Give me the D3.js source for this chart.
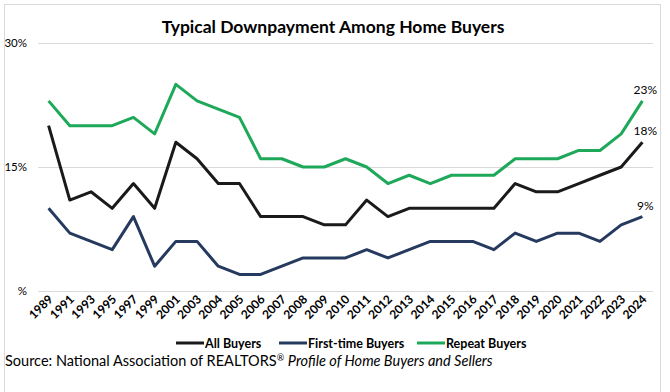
<!DOCTYPE html>
<html>
<head>
<meta charset="utf-8">
<script src="https://cdn.jsdelivr.net/npm/d3@7"></script>
<style>
  body { margin: 0; background: #fff; }
  svg { font-family: Lato, 'Open Sans', sans-serif; }
</style>
</head>
<body>
<div class="chart"></div>
<script>
// Data

const years = ['1989', '1991', '1993', '1995', '1997', '1999', '2001', '2003', '2004', '2005',
  '2006', '2007', '2008', '2009', '2010', '2011', '2012', '2013', '2014', '2015', '2016',
  '2017', '2018', '2019', '2020', '2021', '2022', '2023', '2024']
const allBuyers = [20, 11, 12, 10, 13, 10, 18, 16, 13, 13, 9, 9, 9, 8, 8, 11, 9, 10, 10, 10, 10,
  10, 13, 12, 12, 13, 14, 15, 18]
const firstTime = [10, 7, 6, 5, 9, 3, 6, 6, 3, 2, 2, 3, 4, 4, 4, 5, 4, 5, 6, 6, 6,
  5, 7, 6, 7, 7, 6, 8, 9]
const repeatBuyers = [23, 20, 20, 20, 21, 19, 25, 23, 22, 21, 16, 16, 15, 15, 16, 15, 13, 14, 13, 14, 14,
  14, 16, 16, 16, 17, 17, 19, 23]
const yTicks = [0, 15, 30]
const yTickLabels = ['%', '15%', '30%']

const series = [
  {name: 'All Buyers', values: allBuyers, color: '#1a1a1a'},
  {name: 'First-time Buyers', values: firstTime, color: '#253a5e'},
  {name: 'Repeat Buyers', values: repeatBuyers, color: '#1ea85a'}
]

// Chart

const width = 670
const height = 392

const svg = d3.select('.chart')
  .append('svg')
    .attr('width', width)
    .attr('height', height)

// frame
svg.append('rect')
    .attr('x', 4.5)
    .attr('y', 4.5)
    .attr('width', 656)
    .attr('height', 400)
    .attr('fill', 'none')
    .attr('stroke', '#d9d9d9')

const x = d3.scaleBand()
  .domain(years)
  .range([38, 653])
  .padding(0)
const y = d3.scaleLinear()
  .domain([0, 30])
  .range([291, 43])

const cx = (d) => x(d) + x.bandwidth() / 2

svg.append('text')
    .attr('x', 333)
    .attr('y', 33)
    .attr('text-anchor', 'middle')
    .style('font-size', '17.5px')
    .style('font-weight', 'bold')
    .text('Typical Downpayment Among Home Buyers')

// grid lines + y labels
const yAxis = svg.append('g')
yAxis.selectAll('line')
    .data(yTicks)
  .enter().append('line')
    .attr('x1', 38)
    .attr('x2', 653)
    .attr('y1', (d) => y(d) + 0.5)
    .attr('y2', (d) => y(d) + 0.5)
    .attr('stroke', '#d9d9d9')
yAxis.selectAll('text')
    .data(yTicks)
  .enter().append('text')
    .attr('x', 27)
    .attr('y', (d) => y(d) + 4)
    .attr('text-anchor', 'end')
    .style('font-size', '11.5px')
    .text((d, i) => yTickLabels[i])

// x labels
svg.append('g')
    .selectAll('text')
    .data(years)
  .enter().append('text')
    .attr('transform', (d) => `translate(${cx(d) + 5},${y(0) + 9}) rotate(-45)`)
    .attr('text-anchor', 'end')
    .style('font-size', '12px')
    .style('font-weight', 'bold')
    .text((d) => d)

// lines
const line = d3.line()
  .x((d, i) => cx(years[i]))
  .y((d) => y(d))

svg.append('g')
    .selectAll('path')
    .data(series)
  .enter().append('path')
    .attr('d', (d) => line(d.values))
    .attr('fill', 'none')
    .attr('stroke', (d) => d.color)
    .attr('stroke-width', 3)
    .attr('stroke-linejoin', 'round')

// end labels
const last = years.length - 1
svg.append('g')
    .selectAll('text')
    .data(series)
  .enter().append('text')
    .attr('x', cx(years[last]) + 3)
    .attr('y', (d) => y(d.values[last]) - 7)
    .attr('text-anchor', 'middle')
    .style('font-size', '12px')
    .text((d) => d.values[last] + '%')

// legend
const legendX = [176, 279, 417]
const legend = svg.append('g')
    .selectAll('g')
    .data(series)
  .enter().append('g')
    .attr('transform', (d, i) => `translate(${legendX[i]},343)`)
legend.append('line')
    .attr('x1', 0)
    .attr('x2', 28)
    .attr('stroke', (d) => d.color)
    .attr('stroke-width', 3)
legend.append('text')
    .attr('x', 29)
    .attr('y', 4.5)
    .style('font-size', '12.5px')
    .style('font-weight', 'bold')
    .text((d) => d.name)

// source
const source = svg.append('text')
    .attr('x', 5)
    .attr('y', 366)
    .style('font-size', '14.5px')
source.append('tspan').text('Source: National Association of REALTORS')
source.append('tspan').attr('dy', -5).style('font-size', '9px').text('®')
source.append('tspan').attr('dy', 5).text(' ')
source.append('tspan').style('font-style', 'italic').text('Profile of Home Buyers and Sellers')
</script>
</body>
</html>
